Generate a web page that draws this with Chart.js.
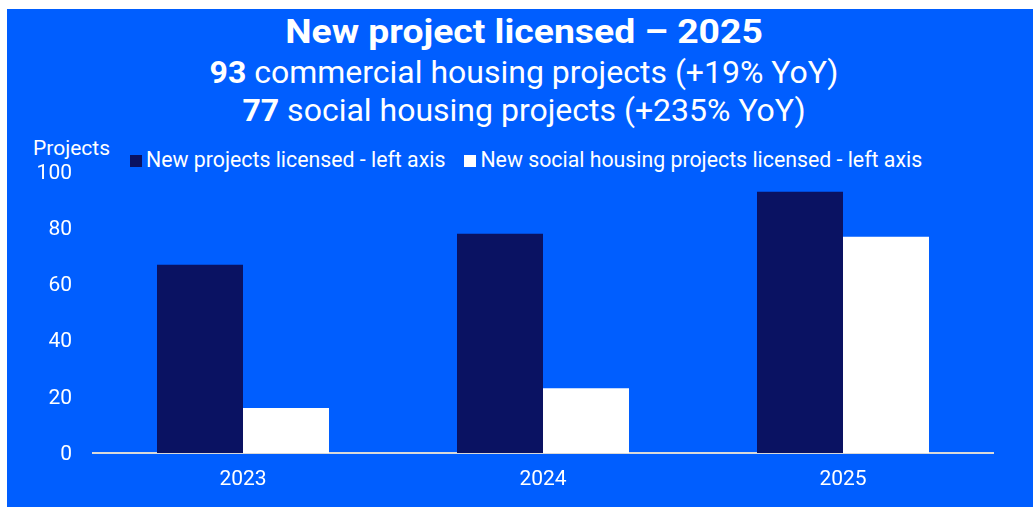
<!DOCTYPE html>
<html>
<head>
<meta charset="utf-8">
<script src="https://cdn.jsdelivr.net/npm/chart.js@4"></script>
<style>
  html, body { margin: 0; padding: 0; background: #ffffff; }
  body { width: 1033px; height: 507px; overflow: hidden; position: relative; font-family: Roboto, "Noto Sans", sans-serif; }
  #panel { position: absolute; left: 7px; top: 9px; right: 0; bottom: 0; background: #005EFF; }
  .hl { position: absolute; left: 0; width: 1048px; text-align: center; color: #fff; white-space: nowrap; }
  #title { top: 14px; font-size: 34px; line-height: 34px; font-weight: 700; transform: scaleX(1.097); transform-origin: 524px 0; }
  #sub1 { top: 56px; font-size: 32px; line-height: 32px; }
  #sub2 { top: 94px; font-size: 32px; line-height: 32px; }
  #ytitle { position: absolute; left: 33px; top: 138px; font-size: 21px; line-height: 21px; color: #fff; }
  #legend { position: absolute; left: 130px; top: 149px; display: flex; align-items: center; font-size: 21.3px; line-height: 21px; color: #fff; white-space: nowrap; }
  #legend .item { display: flex; align-items: center; margin-right: 19px; }
  #legend .box { width: 12px; height: 12px; margin-right: 4px; position: relative; top: 1px; }
  #chart { position: absolute; left: 7px; top: 130px; }
</style>
</head>
<body>
<div id="panel"></div>
<div class="hl" id="title">New project licensed – 2025</div>
<div class="hl" id="sub1"></div>
<div class="hl" id="sub2"></div>
<div id="ytitle">Projects</div>
<div id="legend"></div>
<canvas id="chart" width="1026" height="377"></canvas>
<script>
// Licensed projects per year
const years = ['2023', '2024', '2025'];
const newProjects = [67, 78, 93];
const socialProjects = [16, 23, 77];
const seriesNames = [
  'New projects licensed - left axis',
  'New social housing projects licensed - left axis'
];
const yTickValues = [0, 20, 40, 60, 80, 100];

const NAVY = '#0A1262';
const WHITE = '#FFFFFF';
const AXIS_FONT = { family: 'Roboto', size: 21 };

// Headline figures for the latest year
const last = years.length - 1;
const yoy = (arr) => Math.round((arr[last] / arr[last - 1] - 1) * 100);
document.getElementById('sub1').innerHTML =
  '<b>' + newProjects[last] + '</b> commercial housing projects (+' + yoy(newProjects) + '% YoY)';
document.getElementById('sub2').innerHTML =
  '<b>' + socialProjects[last] + '</b> social housing projects (+' + yoy(socialProjects) + '% YoY)';

const chart = new Chart(document.getElementById('chart'), {
  type: 'bar',
  data: {
    labels: years,
    datasets: [
      { label: seriesNames[0], data: newProjects, backgroundColor: NAVY, borderWidth: 0 },
      { label: seriesNames[1], data: socialProjects, backgroundColor: WHITE, borderWidth: 0 }
    ]
  },
  options: {
    responsive: false,
    animation: false,
    events: [],
    categoryPercentage: 0.5733,
    barPercentage: 1,
    layout: { padding: { left: 0, right: 40, top: 42, bottom: 0 } },
    plugins: {
      legend: { display: false },
      title: { display: false },
      tooltip: { enabled: false }
    },
    scales: {
      x: {
        grid: { display: false, drawTicks: false, tickLength: 0 },
        border: { display: true, color: '#D9D9D9', width: 2 },
        ticks: { color: WHITE, font: AXIS_FONT, padding: 14, maxRotation: 0 },
        afterFit: (s) => { s.height = 54; }
      },
      y: {
        min: 0,
        max: 100,
        grid: { display: false, drawTicks: false, tickLength: 0 },
        border: { display: false },
        afterBuildTicks: (s) => { s.ticks = yTickValues.map(v => ({ value: v })); },
        ticks: { color: WHITE, font: AXIS_FONT, padding: 21, labelOffset: 1.5 },
        afterFit: (s) => { s.width = 86; }
      }
    }
  }
});

// Legend built from the chart's datasets
const legend = document.getElementById('legend');
chart.data.datasets.forEach((ds) => {
  const item = document.createElement('div');
  item.className = 'item';
  const box = document.createElement('span');
  box.className = 'box';
  box.style.background = ds.backgroundColor;
  const txt = document.createElement('span');
  txt.textContent = ds.label;
  item.appendChild(box);
  item.appendChild(txt);
  legend.appendChild(item);
});
</script>
</body>
</html>
